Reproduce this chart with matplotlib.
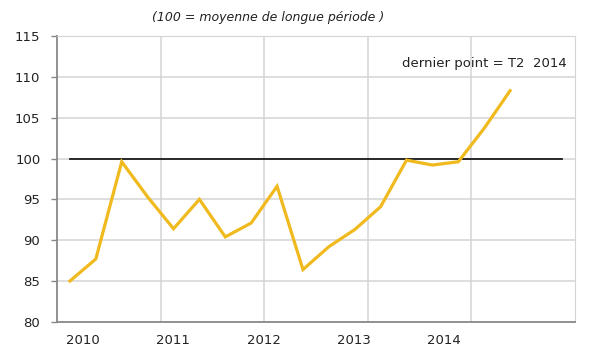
import numpy as np
import matplotlib
matplotlib.use('Agg')
import matplotlib.pyplot as plt

# Quarterly index values, T1 2010 -> T2 2014
values = [85.0, 87.7, 99.6, 95.3,
          91.4, 95.0, 90.4, 92.1,
          96.6, 86.4, 89.2, 91.3,
          94.1, 99.8, 99.2, 99.6,
          103.7, 108.3]
years = ['2010', '2011', '2012', '2013', '2014']
year_label_pos = [1.0, 4.48, 8.0, 11.47, 14.94]
n_quarters = 20
reference_level = 100

x = np.arange(len(values)) + 0.5

fig = plt.figure(figsize=(6, 3.6), dpi=100)
ax = fig.add_axes([0.095, 0.106, 0.863, 0.794])

# grid
for q in range(4, n_quarters, 4):
    ax.axvline(q, color='#d4d4d4', lw=1.1, zorder=0)
for yv in range(85, 116, 5):
    ax.axhline(yv, color='#d4d4d4', lw=1.1, zorder=0)

ax.plot([0.5, n_quarters - 0.5], [reference_level, reference_level],
        color='#1a1a1a', lw=1.3, zorder=2)
ax.plot(x, values, color='#f0ba1e', lw=2.3, solid_joinstyle='miter', zorder=3)

ax.set_xlim(0, n_quarters)
ax.set_ylim(80, 115)
ax.set_yticks(range(80, 116, 5))
ax.set_xticks(year_label_pos)
ax.set_xticklabels(years)
ax.tick_params(axis='x', length=0, pad=9, labelsize=9.5, colors='#222222')
ax.tick_params(axis='y', length=4, width=1, color='#888888', pad=8,
               labelsize=9.5, labelcolor='#222222')

for side in ['top', 'right']:
    ax.spines[side].set_color('#d4d4d4')
for side in ['left', 'bottom']:
    ax.spines[side].set_color('#888888')
    ax.spines[side].set_linewidth(1.3)

ax.text(0.985, 0.905, 'dernier point = T2  2014', transform=ax.transAxes,
        ha='right', va='center', fontsize=9.5, color='#222222')

fig.text(0.447, 0.95, '(100 = moyenne de longue période )', ha='center',
         va='center', fontsize=9, style='italic', color='#222222')

fig.savefig('out.png', dpi=100)
